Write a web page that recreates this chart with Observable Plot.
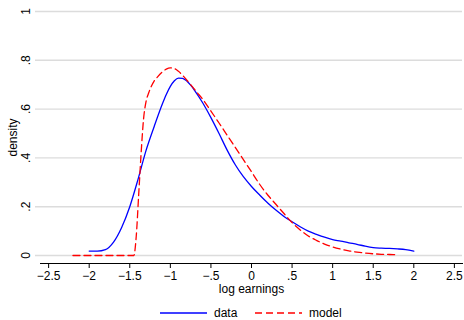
<!DOCTYPE html>
<html>
<head>
<meta charset="utf-8">
<script src="https://cdn.jsdelivr.net/npm/d3@7"></script>
<script src="https://cdn.jsdelivr.net/npm/@observablehq/plot@0.6"></script>
<style>
  html, body { margin: 0; padding: 0; background: #fff; }
  #wrap { width: 464px; font-family: "Liberation Sans", Arial, Helvetica, sans-serif; }
  #legend { position: relative; width: 464px; height: 20px; font-size: 12px; color: #000; }
  #legend .item { position: absolute; top: 3px; height: 20px; display: flex; align-items: center; }
  #legend svg { display: block; }
</style>
</head>
<body>
<div id="wrap"></div>
<script>
// ---- data ----
const dataX = [-2.0,-1.9,-1.8,-1.7,-1.6,-1.5,-1.4,-1.3,-1.2,-1.1,-1.05,-1.0,-0.95,-0.9,-0.85,-0.8,-0.75,-0.7,-0.6,-0.5,-0.4,-0.3,-0.2,-0.1,0.0,0.1,0.2,0.3,0.4,0.5,0.6,0.7,0.8,0.9,1.0,1.1,1.2,1.3,1.4,1.5,1.6,1.7,1.8,1.9,2.0];
const dataY = [0.018,0.018,0.024,0.055,0.115,0.2,0.31,0.43,0.528,0.62,0.66,0.693,0.716,0.727,0.726,0.716,0.698,0.676,0.625,0.565,0.5,0.432,0.372,0.323,0.283,0.248,0.215,0.186,0.16,0.138,0.118,0.1,0.087,0.075,0.065,0.059,0.052,0.046,0.038,0.032,0.03,0.029,0.027,0.024,0.018];
const modelX = [-2.2,-1.45,-1.42,-1.39,-1.36,-1.33,-1.30,-1.265,-1.2,-1.16,-1.1,-1.05,-1.0,-0.95,-0.9,-0.834,-0.75,-0.67,-0.6,-0.5,-0.4,-0.3,-0.2,-0.1,0.0,0.1,0.2,0.3,0.4,0.5,0.6,0.7,0.8,0.9,1.0,1.1,1.2,1.3,1.4,1.5,1.6,1.7,1.8];
const modelY = [0,0,0.08,0.25,0.42,0.56,0.63,0.668,0.715,0.731,0.752,0.764,0.769,0.766,0.755,0.733,0.70,0.668,0.64,0.592,0.543,0.493,0.443,0.393,0.343,0.292,0.248,0.21,0.172,0.135,0.105,0.08,0.062,0.047,0.035,0.026,0.019,0.014,0.01,0.007,0.005,0.004,0.003];
const xTicks = [-2.5,-2,-1.5,-1,-0.5,0,0.5,1,1.5,2,2.5];
const yTicks = [0,0.2,0.4,0.6,0.8,1];
const seriesNames = ["data","model"];
const seriesColors = ["#0000ff","#ff0000"];
const xLabel = "log earnings";
const yLabel = "density";

const fmt = d => String(d).replace(/^(-?)0\./, "$1.").replace("-", "\u2212");

const dataRows = dataX.map((x, i) => ({x, y: dataY[i]}));
const modelRows = modelX.map((x, i) => ({x, y: modelY[i]}));

const chart = Plot.plot({
  width: 464,
  height: 300,
  marginLeft: 40,
  marginRight: 2,
  marginTop: 11,
  marginBottom: 37,
  style: {fontFamily: '"Liberation Sans", Arial, Helvetica, sans-serif', fontSize: "12px", color: "#000", background: "#fff"},
  x: {domain: [-2.6, 2.6]},
  y: {domain: [-0.0328, 1], axis: null},
  marks: [
    Plot.gridY(yTicks, {stroke: "#dcdcdc", strokeOpacity: 1, strokeWidth: 1.4, insetLeft: -5}),
    Plot.frame({anchor: "bottom", stroke: "#000"}),
    Plot.axisX({ticks: xTicks, tickSize: 5, tickPadding: 3, tickFormat: fmt, label: null, fontSize: 12}),
    Plot.text(yTicks, {y: d => d, text: fmt, frameAnchor: "left", dx: -14, rotate: -90, textAnchor: "middle", lineAnchor: "middle", fontSize: 12}),
    Plot.text([yLabel], {frameAnchor: "left", dx: -27, rotate: -90, textAnchor: "middle", lineAnchor: "middle", fontSize: 12}),
    Plot.text([xLabel], {frameAnchor: "bottom", dy: 26, lineAnchor: "middle", fontSize: 12}),
    Plot.line(dataRows, {x: "x", y: "y", stroke: seriesColors[0], strokeWidth: 1.3, curve: "monotone-x"}),
    Plot.line(modelRows, {x: "x", y: "y", stroke: seriesColors[1], strokeWidth: 1.3, strokeDasharray: "7,4", curve: "monotone-x"})
  ]
});

const wrap = document.getElementById("wrap");
wrap.appendChild(chart);

// legend
const legend = document.createElement("div");
legend.id = "legend";
const lefts = [160, 255];
seriesNames.forEach((name, i) => {
  const item = document.createElement("div");
  item.className = "item";
  item.style.left = lefts[i] + "px";
  const dash = i === 1 ? ' stroke-dasharray="7,4"' : '';
  item.innerHTML = `<svg width="47" height="6"><line x1="0" y1="3" x2="47" y2="3" stroke="${seriesColors[i]}" stroke-width="1.3"${dash}/></svg><span style="margin-left:7px">${name}</span>`;
  legend.appendChild(item);
});
wrap.appendChild(legend);
</script>
</body>
</html>
